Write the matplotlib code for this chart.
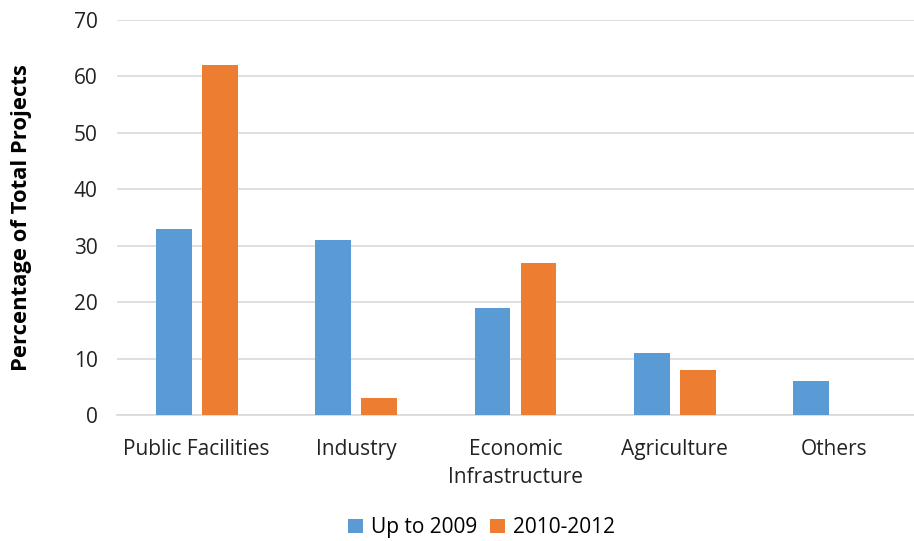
import numpy as np
import matplotlib
matplotlib.use('Agg')
import matplotlib.pyplot as plt

plt.rcParams['font.family'] = ['Open Sans', 'DejaVu Sans']

#data
categories = ['Public Facilities', 'Industry', 'Economic\nInfrastructure', 'Agriculture', 'Others']
up_to_2009 = [33, 31, 19, 11, 6]
y2010_2012 = [62, 3, 27, 8, 0]
yticks = [0, 10, 20, 30, 40, 50, 60, 70]

blue = '#5b9bd5'
orange = '#ed7d31'
grid = '#d9d9d9'

fig = plt.figure(figsize=(9.14, 5.41), dpi=100)
ax = fig.add_axes([0.128, 0.233, 0.872, 0.73])

x = np.arange(len(categories))
w = 0.225
ax.bar(x - 0.144, up_to_2009, w, color=blue, label='Up to 2009', zorder=3)
ax.bar(x + 0.144, y2010_2012, w, color=orange, label='2010-2012', zorder=3)

ax.set_xlim(-0.5, len(categories) - 0.5)
ax.set_ylim(0, 70)
ax.set_yticks(yticks)
ax.set_xticks(x)
ax.set_xticklabels(categories, fontsize=15, color='#222222', linespacing=1.45)
ax.tick_params(axis='y', labelsize=15, labelcolor='#222222', length=0, pad=14)
ax.tick_params(axis='x', length=0, pad=17)
ax.yaxis.grid(True, color=grid, linewidth=1.2, zorder=0)
for s in ['top', 'right', 'left']:
    ax.spines[s].set_visible(False)
ax.spines['bottom'].set_color(grid)
ax.spines['bottom'].set_linewidth(1.2)

ax.set_ylabel('Percentage of Total Projects', fontsize=15.8, fontweight='bold', labelpad=30)

fig.legend(loc='lower center', bbox_to_anchor=(0.527, -0.03), ncol=2, frameon=False,
           fontsize=15, handlelength=0.7, handleheight=0.7, handletextpad=0.4, columnspacing=0.6)

fig.savefig('out.png', dpi=100)
